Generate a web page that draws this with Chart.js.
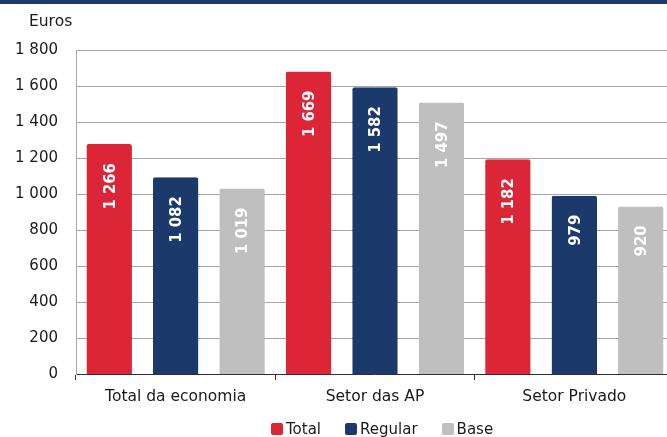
<!DOCTYPE html>
<html>
<head>
<meta charset="utf-8">
<script src="https://cdn.jsdelivr.net/npm/chart.js@4"></script>
<style>
  body{margin:0;background:#fff;font-family:"DejaVu Sans",Verdana,sans-serif;color:#1a1a1a;}
  #wrap{position:relative;width:667px;height:437px;overflow:hidden;}
  #topbar{position:absolute;left:0;top:0;width:667px;height:4px;background:#1b3a6b;}
  #unit{position:absolute;left:29px;top:12px;font-size:15.5px;}
  #legend{position:absolute;left:271px;top:420px;display:flex;font-size:15px;line-height:18px;}
  .item{display:flex;align-items:center;margin-right:24px;}
  .box{width:12px;height:12px;border-radius:2px;margin-right:3px;}
</style>
</head>
<body>
<div id="wrap">
  <canvas id="chart" width="674" height="437"></canvas>
  <div id="topbar"></div>
  <div id="unit">Euros</div>
  <div id="legend"></div>
</div>
<script>
// ===== DATA =====
const categories = ["Total da economia", "Setor das AP", "Setor Privado"];
const seriesNames = ["Total", "Regular", "Base"];
const totalVals = [1266, 1669, 1182];
const regularVals = [1082, 1582, 979];
const baseVals = [1019, 1497, 920];
const yTicks = [0, 200, 400, 600, 800, 1000, 1200, 1400, 1600, 1800];

const colors = ["#dc2638", "#1b3a6b", "#bfbfbf"];
const FONT = '"DejaVu Sans", Verdana, sans-serif';
const LABEL_FONT = '"DejaVu Sans Condensed", "DejaVu Sans", sans-serif';

function fmt(v){
  if(v>=1000) return Math.floor(v/1000)+" "+String(v%1000).padStart(3,"0");
  return String(v);
}

// ===== LEGEND =====
let legend = document.getElementById("legend");
seriesNames.forEach((n,i)=>{
  legend.innerHTML += `<div class="item"><div class="box" style="background:${colors[i]}"></div>${n}</div>`;
});

// ===== LABELS INSIDE BARS =====
const barLabels = {
  id:"barLabels",
  afterDatasetsDraw(chart){
    let ctx = chart.ctx;
    chart.data.datasets.forEach((ds,i)=>{
      chart.getDatasetMeta(i).data.forEach((bar,j)=>{
        ctx.save();
        ctx.translate(bar.x, bar.y+17);
        ctx.rotate(-Math.PI/2);
        ctx.font = "bold 16.5px "+LABEL_FONT;
        ctx.fillStyle = "#fff";
        ctx.textAlign = "right";
        ctx.textBaseline = "middle";
        ctx.fillText(fmt(ds.data[j]), 0, 1);
        ctx.restore();
      });
    });
  }
};

// ===== CHART =====
let ctx = document.getElementById("chart").getContext("2d");
new Chart(ctx,{
  type:"bar",
  data:{
    labels:categories,
    datasets:[totalVals, regularVals, baseVals].map((d,i)=>({
      label:seriesNames[i],
      data:d,
      backgroundColor:colors[i],
      borderColor:colors[i],
      borderWidth:2,
      inflateAmount:2,
      borderRadius:2,
      borderSkipped:false,
      categoryPercentage:1.0,
      barPercentage:0.624
    }))
  },
  options:{
    responsive:false,
    animation:false,
    layout:{padding:{top:50,right:0,bottom:0,left:0}},
    plugins:{legend:{display:false},tooltip:{enabled:false}},
    scales:{
      x:{
        z:1,
        grid:{offset:true,drawOnChartArea:false,drawTicks:true,tickLength:6,color:"#303030"},
        border:{color:"#303030"},
        ticks:{font:{family:FONT,size:15.5},color:"#1a1a1a",padding:8},
        afterFit(s){ s.height = 63; }
      },
      y:{
        min:0,max:1800,
        afterBuildTicks(s){ s.ticks = yTicks.map(v=>({value:v})); },
        grid:{color:"#a6a6a6",drawTicks:false},
        border:{color:"#a6a6a6"},
        ticks:{font:{family:FONT,size:15},color:"#1a1a1a",padding:18,callback:v=>fmt(v)},
        afterFit(s){ s.width = 76; }
      }
    }
  },
  plugins:[barLabels]
});
</script>
</body>
</html>
